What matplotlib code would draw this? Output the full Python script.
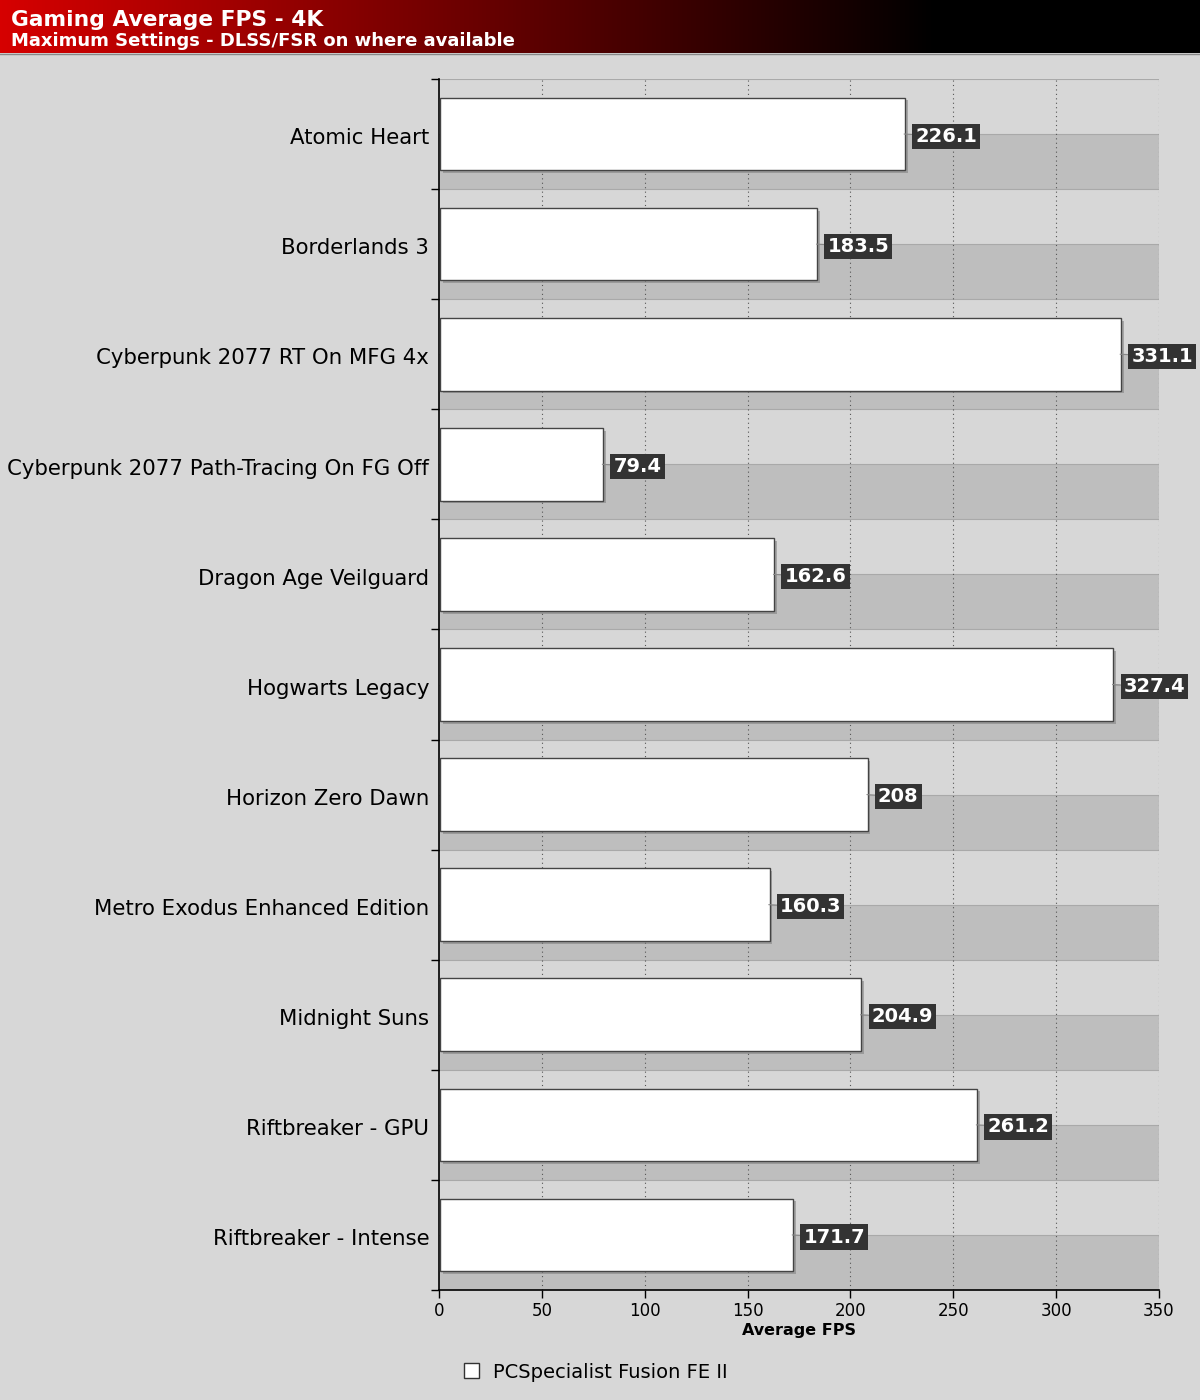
import numpy as np
import matplotlib.pyplot as plt
import matplotlib.patheffects as pe
from matplotlib.patches import Patch

games = [
    "Atomic Heart",
    "Borderlands 3",
    "Cyberpunk 2077 RT On MFG 4x",
    "Cyberpunk 2077 Path-Tracing On FG Off",
    "Dragon Age Veilguard",
    "Hogwarts Legacy",
    "Horizon Zero Dawn",
    "Metro Exodus Enhanced Edition",
    "Midnight Suns",
    "Riftbreaker - GPU",
    "Riftbreaker - Intense",
]
fps = [226.1, 183.5, 331.1, 79.4, 162.6, 327.4, 208, 160.3, 204.9, 261.2, 171.7]
x_ticks = [0, 50, 100, 150, 200, 250, 300, 350]
series_name = "PCSpecialist Fusion FE II"

W, H = 1200, 1400
bg = '#d7d7d7'
fig = plt.figure(figsize=(W / 100, H / 100), dpi=100, facecolor=bg)

# Header banner with red -> black gradient.
hdr = fig.add_axes([0, 1 - 53 / H, 1, 53 / H])
grad = np.clip(np.linspace(0, 1, 512) / 0.78, 0, 1)
cols = np.zeros((1, 512, 3))
cols[0, :, 0] = 0.84 * (1 - grad)
hdr.imshow(cols, aspect='auto', extent=(0, 1, 0, 1))
hdr.set_axis_off()
hdr.text(0.009, 0.62, "Gaming Average FPS - 4K", color='white', fontsize=15.7,
         fontweight='bold', va='center', ha='left', transform=hdr.transAxes)
hdr.text(0.009, 0.22, "Maximum Settings - DLSS/FSR on where available", color='white',
         fontsize=13, fontweight='bold', va='center', ha='left', transform=hdr.transAxes)
fig.add_artist(plt.Line2D([0, 1], [1 - 54 / H] * 2, color='#888888', lw=1))

# Main plot area.
left, right, top, bottom = 439, 1159, 79, 1290
ax = fig.add_axes([left / W, 1 - bottom / H, (right - left) / W, (bottom - top) / H])
ax.set_facecolor(bg)
n = len(games)
y = np.arange(n)
ax.set_xlim(0, 350)
ax.set_ylim(n - 0.5, -0.5)

# Darker lower half of every band.
ax.barh(y + 0.25, 350, height=0.5, color='#bebebe', zorder=0)
for b in np.arange(-0.5, n, 0.5):
    ax.axhline(b, color='#a9a9a9', lw=0.8, zorder=0.5)
for t in x_ticks[1:]:
    ax.axvline(t, color='#555555', lw=0.8, ls=(0, (1, 3)), zorder=1)

bars = ax.barh(y, fps, left=0.4, height=0.66, color='white', edgecolor='#444444', lw=1, zorder=3)
for bar in bars:
    bar.set_path_effects([pe.SimplePatchShadow(offset=(2, -2), shadow_rgbFace='#777777', alpha=0.5),
                          pe.Normal()])

for yi, v in zip(y, fps):
    ax.annotate(f"{v:g}", xy=(v, yi), xytext=(8, -1.5), textcoords='offset points',
                ha='left', va='center', color='white', fontsize=14, fontweight='bold',
                bbox=dict(boxstyle='square,pad=0.16', fc='#333333', ec='none'),
                arrowprops=dict(arrowstyle='-', color='#888888', lw=0.8, shrinkA=0, shrinkB=0),
                zorder=5, annotation_clip=False)

ax.set_yticks(np.arange(-0.5, n, 1))
ax.set_yticklabels([])
ax.tick_params(axis='y', which='major', length=6, width=1, color='black', direction='out')
ax.set_yticks(y + 0.02, minor=True)
ax.set_yticklabels(games, minor=True, fontsize=15.3)
ax.tick_params(axis='y', which='minor', length=0, pad=7)

ax.set_xticks(x_ticks)
ax.set_xticklabels([str(t) for t in x_ticks], fontsize=12)
ax.tick_params(axis='x', length=6, width=1, color='black', direction='out', pad=3)
ax.set_xlabel("Average FPS", fontsize=11.5, fontweight='bold', labelpad=2)

for s in ['top', 'right']:
    ax.spines[s].set_visible(False)
for s in ['left', 'bottom']:
    ax.spines[s].set_color('black')
    ax.spines[s].set_linewidth(1.2)

fig.legend(handles=[Patch(facecolor='white', edgecolor='#333333', lw=1)],
           labels=[series_name], loc='center left',
           bbox_to_anchor=(446 / W, 1 - 1372 / H), frameon=False,
           handlelength=0.8, handleheight=0.8, fontsize=14, handletextpad=0.7)

plt.savefig('out.png', dpi=100, facecolor=bg)
